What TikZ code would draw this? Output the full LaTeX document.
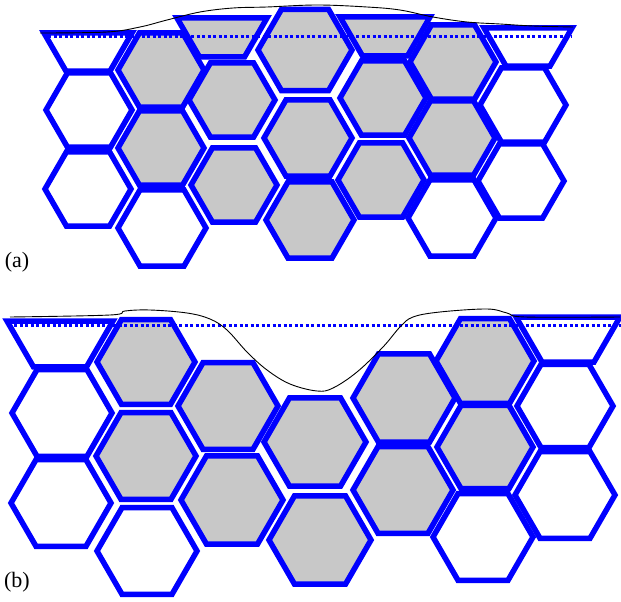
\documentclass[tikz,border=0pt]{standalone}
\usepackage{fontspec}
\setmainfont{Liberation Serif}
\usepackage{tikz}

\definecolor{hexblue}{RGB}{0,0,255}
\definecolor{cellgray}{RGB}{200,200,200}

\tikzset{
  cell/.style={draw=hexblue, line width=5.5pt, line join=miter},
  graycell/.style={cell, fill=cellgray},
  whitecell/.style={cell, fill=white},
  surface/.style={black, line width=0.9pt},
  datum/.style={hexblue, line width=3pt, dash pattern=on 3pt off 2.5pt},
  panel/.style={font=\fontsize{22}{24}\selectfont, inner sep=0pt}
}

% full hexagon: centre x, centre y, radius, style
\newcommand{\hexcell}[4]{%
  \filldraw[#4] (#1+#3,#2) -- (#1+0.5*#3,#2+0.866*#3) -- (#1-0.5*#3,#2+0.866*#3)
    -- (#1-#3,#2) -- (#1-0.5*#3,#2-0.866*#3) -- (#1+0.5*#3,#2-0.866*#3) -- cycle;}
% lower half of a hexagon, cut at the top face
\newcommand{\halfcell}[4]{%
  \filldraw[#4] (#1-#3,#2) -- (#1+#3,#2) -- (#1+0.5*#3,#2+0.866*#3)
    -- (#1-0.5*#3,#2+0.866*#3) -- cycle;}

\begin{document}
\begin{tikzpicture}[x=1pt, y=-1pt]
  \useasboundingbox (0,0) rectangle (621,602);

  % ---------------- panel (a) ----------------
  % column 1
  \halfcell{88}{33}{44}{whitecell}
  \hexcell{89}{110}{43}{whitecell}
  \hexcell{88}{189}{43}{whitecell}
  % column 2
  \hexcell{161}{70}{43}{graycell}
  \hexcell{161}{148}{43}{graycell}
  \hexcell{162}{228}{44}{whitecell}
  % column 3
  \halfcell{222}{18}{45}{graycell}
  \hexcell{232}{100}{43}{graycell}
  \hexcell{234}{185}{43}{graycell}
  % column 4
  \hexcell{305}{50}{47}{graycell}
  \hexcell{308}{138}{44}{graycell}
  \hexcell{310}{220}{44}{graycell}
  % column 5
  \halfcell{385}{17}{45}{graycell}
  \hexcell{383}{98}{43}{graycell}
  \hexcell{381}{180}{43}{graycell}
  % column 6
  \hexcell{453}{62}{43}{graycell}
  \hexcell{452}{138}{43}{graycell}
  \hexcell{452}{218}{44}{whitecell}
  % column 7
  \halfcell{528}{28}{44}{whitecell}
  \hexcell{523}{105}{43}{whitecell}
  \hexcell{521}{181}{43}{whitecell}
  % datum and surface profile
  \draw[datum] (48,37) -- (571,37);
  \draw[surface] plot[smooth, tension=0.6] coordinates {(40,33) (107,32) (140,27)
    (167,20) (200,12) (233,8) (267,7) (317,5) (367,7) (400,10) (433,17)
    (467,22) (500,24) (533,26) (573,27)};
  \node[panel] (labela) at (17,262) {(a)};

  % ---------------- panel (b) ----------------
  % column 1
  \halfcell{60}{321}{53}{whitecell}
  \hexcell{62}{413}{50}{whitecell}
  \hexcell{61}{503}{50}{whitecell}
  % column 2
  \hexcell{146}{362}{49}{graycell}
  \hexcell{146}{456}{50}{graycell}
  \hexcell{147}{551}{50}{whitecell}
  % column 3
  \hexcell{228}{406}{50}{graycell}
  \hexcell{232}{500}{51}{graycell}
  % column 4
  \hexcell{315}{442}{51}{graycell}
  \hexcell{320}{540}{51}{graycell}
  % column 5
  \hexcell{404}{398}{51}{graycell}
  \hexcell{403}{490}{50}{graycell}
  % column 6
  \hexcell{485}{361}{49}{graycell}
  \hexcell{485}{447}{48}{graycell}
  \hexcell{483}{537}{50}{whitecell}
  % column 7
  \halfcell{568}{317}{52}{whitecell}
  \hexcell{565}{406}{48}{whitecell}
  \hexcell{565}{495}{50}{whitecell}
  % datum and surface profile
  \draw[datum] (14,325) -- (621,325);
  \draw[surface] plot[smooth, tension=0.6] coordinates {(10,317) (110,315)
    (125,311) (150,310) (187,313) (210,319) (227,330) (247,352) (267,370)
    (290,384) (317,391) (333,388) (357,372) (383,347) (400,327) (413,317)
    (440,312) (487,309) (507,313) (525,317) (620,317)};
  \node[panel] (labelb) at (17,582) {(b)};
\end{tikzpicture}
\end{document}
